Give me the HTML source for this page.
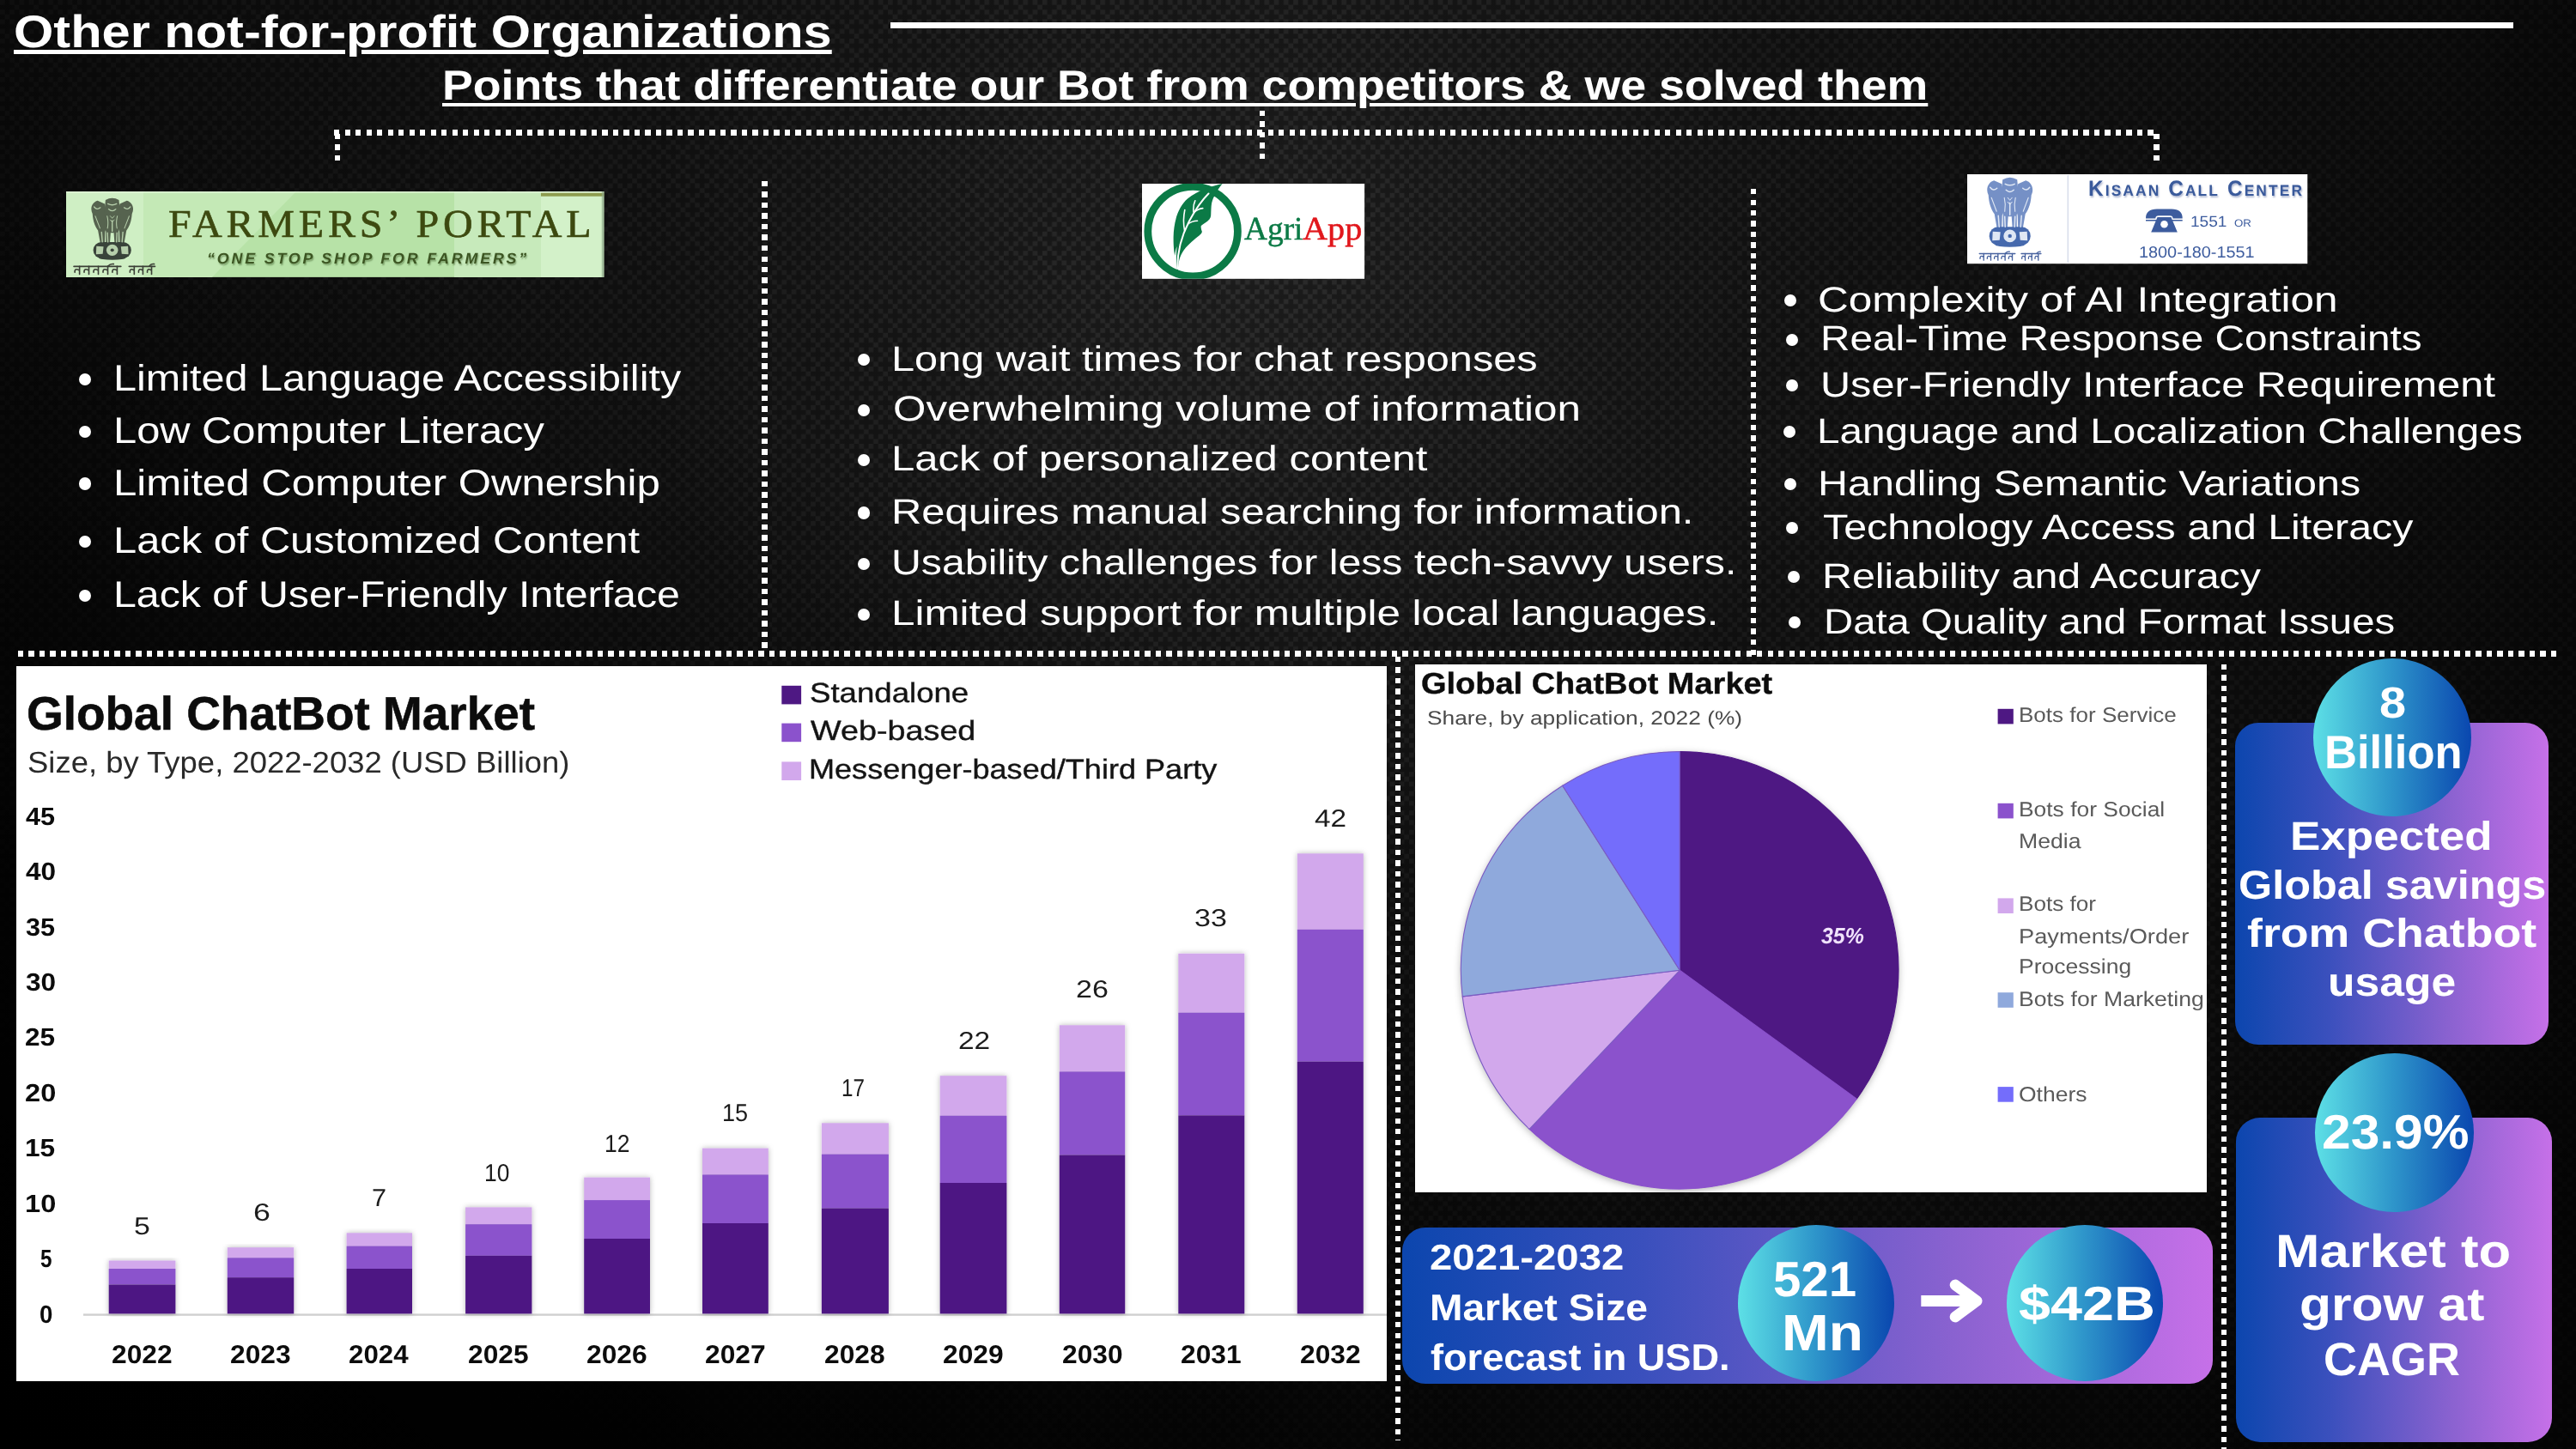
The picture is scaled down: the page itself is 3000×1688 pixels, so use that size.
<!DOCTYPE html>
<html lang="en">
<head>
<meta charset="utf-8">
<title>Other not-for-profit Organizations</title>
<style>
html,body{margin:0;padding:0;background:#0b0b0b;}
#slide{position:relative;width:3000px;height:1688px;overflow:hidden;
  font-family:"Liberation Sans",sans-serif;color:#fff;
  background:#161616;}
.t{position:absolute;white-space:nowrap;line-height:1;transform-origin:0 0;margin:0;text-rendering:geometricPrecision;}
.u{text-decoration:underline;text-decoration-thickness:4.5px;text-underline-offset:3px;}
.u2{text-decoration:underline;text-decoration-thickness:4.2px;text-underline-offset:3.5px;}
.dh{position:absolute;height:6.4px;background:repeating-linear-gradient(90deg,#fff 0 6.4px,transparent 6.4px 12.5px);}
.dv{position:absolute;width:6.4px;background:repeating-linear-gradient(180deg,#fff 0 6.4px,transparent 6.4px 12.5px);}
.b{position:absolute;width:14px;height:14px;border-radius:50%;background:#fff;}
.box{position:absolute;background:#fff;}
.card{position:absolute;background:linear-gradient(90deg,#0c46ae 0%,#3b50bd 30%,#8a62d0 68%,#c670e8 100%);}
.ball{position:absolute;border-radius:50%;background:linear-gradient(90deg,#5de0e6 0%,#2f97cb 48%,#0a47af 100%);}
svg{position:absolute;overflow:visible;}
ul{list-style:none;margin:0;padding:0;}
h1,h2{font-weight:700;}
#bgp{left:0;top:0;}
#shade{position:absolute;left:0;top:0;width:3000px;height:1688px;
  background:
   linear-gradient(to top right,rgba(0,0,0,1) 0%,rgba(0,0,0,.9) 12%,rgba(0,0,0,.45) 30%,rgba(0,0,0,0) 50%),
   radial-gradient(circle at 1450px 330px,rgba(0,0,0,0) 0,rgba(0,0,0,.12) 200px,rgba(0,0,0,.29) 450px,rgba(0,0,0,.44) 700px,rgba(0,0,0,.52) 1000px,rgba(0,0,0,.58) 1200px,rgba(0,0,0,.64) 1370px,rgba(0,0,0,.73) 1570px,rgba(0,0,0,.86) 1900px);}

</style>
</head>
<body>
<div id="slide">
<svg id="bgp" width="3000" height="1688"><defs><pattern id="wv" width="22.48" height="22.48" patternUnits="userSpaceOnUse"><rect width="22.48" height="22.48" fill="#1b1b1b"/><g fill="#2c2c2c"><rect x="0.00" y="0.00" width="5.62" height="5.62"/><rect x="11.24" y="0.00" width="5.62" height="5.62"/><rect x="16.86" y="5.62" width="5.62" height="5.62"/><rect x="0.00" y="11.24" width="5.62" height="5.62"/><rect x="11.24" y="11.24" width="5.62" height="5.62"/><rect x="5.62" y="16.86" width="5.62" height="5.62"/></g></pattern></defs><rect width="3000" height="1688" fill="url(#wv)"/></svg>
<div id="shade"></div>
<div style="position:absolute;left:1036.7px;top:26.4px;width:1890.2px;height:6.6px;background:#fff"></div>
<div class="dh" style="left:389.4px;top:151.3px;width:2119.0px"></div>
<div class="dv" style="left:389.6px;top:156.1px;height:31.9px"></div>
<div class="dv" style="left:1466.9px;top:128.6px;height:56.4px"></div>
<div class="dv" style="left:2508.3px;top:156.1px;height:31.9px"></div>
<div class="dv" style="left:887.2px;top:211px;height:544.3px"></div>
<div class="dv" style="left:2038.9px;top:220.2px;height:542.8px"></div>
<div class="dh" style="left:21px;top:758.2px;width:2956.4px"></div>
<div class="dv" style="left:1624.7px;top:765.2px;height:912.8px"></div>
<div class="dv" style="left:2586.9px;top:774.2px;height:913.8px"></div>
<div class="b" style="left:91.6px;top:434.8px;width:14.4px;height:14.4px"></div>
<div class="b" style="left:91.6px;top:496.0px;width:14.4px;height:14.4px"></div>
<div class="b" style="left:91.6px;top:556.4px;width:14.4px;height:14.4px"></div>
<div class="b" style="left:91.6px;top:623.9px;width:14.4px;height:14.4px"></div>
<div class="b" style="left:91.6px;top:686.8px;width:14.4px;height:14.4px"></div>
<div class="b" style="left:998.9px;top:412.0px;width:14.4px;height:14.4px"></div>
<div class="b" style="left:998.9px;top:470.5px;width:14.4px;height:14.4px"></div>
<div class="b" style="left:998.9px;top:528.7px;width:14.4px;height:14.4px"></div>
<div class="b" style="left:998.9px;top:590.3px;width:14.4px;height:14.4px"></div>
<div class="b" style="left:998.9px;top:649.5px;width:14.4px;height:14.4px"></div>
<div class="b" style="left:998.9px;top:708.7px;width:14.4px;height:14.4px"></div>
<div class="b" style="left:2077.6px;top:343.1px;width:14.4px;height:14.4px"></div>
<div class="b" style="left:2079.7px;top:388.5px;width:14.4px;height:14.4px"></div>
<div class="b" style="left:2079.7px;top:441.9px;width:14.4px;height:14.4px"></div>
<div class="b" style="left:2076.7px;top:495.9px;width:14.4px;height:14.4px"></div>
<div class="b" style="left:2077.6px;top:556.8px;width:14.4px;height:14.4px"></div>
<div class="b" style="left:2079.7px;top:608.1px;width:14.4px;height:14.4px"></div>
<div class="b" style="left:2082.1px;top:665.1px;width:14.4px;height:14.4px"></div>
<div class="b" style="left:2083.0px;top:717.9px;width:14.4px;height:14.4px"></div>
<svg style="left:76.7px;top:222.8px" width="626.3" height="99.9" viewBox="0 0 626.3 99.9">
<defs><clipPath id="fpc"><rect width="626.3" height="99.9"/></clipPath></defs>
<g clip-path="url(#fpc)">
<rect width="626.3" height="99.9" fill="#b7e2a7"/>
<path d="M0 0 H268 L170 99.9 H0 Z" fill="#c4e9b6"/>
<rect width="90" height="99.9" fill="#cfefc4"/>
<rect x="452" width="175" height="99.9" fill="#c7eabb"/>
<rect x="553" width="74" height="99.9" fill="#d3f1c9"/>
<rect x="553" y="1.5" width="74" height="4.2" fill="#8d9c4f"/>
<rect x="0" y="0" width="626.3" height="1.6" fill="#e4f6dc" opacity=".8"/>
<rect x="623.8" y="0" width="2.5" height="99.9" fill="#8fa88a" opacity=".7"/>
</g>
<g transform="translate(29.3,7.3) scale(0.92,0.89)"><g stroke="none">
<path d="M8 4 C1 6 -2 14 1.5 21 C2 29 4 37 8.5 43 L11.5 60 L17 60 L17.5 45 L21 30 L17 8 Z" fill="#56634f"/>
<path d="M45 4 C52 6 55 14 51.5 21 C51 29 49 37 44.5 43 L41.5 60 L36 60 L35.5 45 L32 30 L36 8 Z" fill="#56634f"/>
<path d="M18 3 Q26.5 -2 35 3 L36.5 20 Q38.5 34 34.5 44 L34.5 60 L29.5 60 L28.5 46 L24.5 46 L23.5 60 L18.5 60 L18.5 44 Q14.5 34 16.5 20 Z" fill="#56634f"/>
<rect x="2.5" y="58" width="48" height="21.5" rx="10.5" fill="#39433a"/>
<ellipse cx="26.5" cy="79" rx="17" ry="2.4" fill="#39433a"/>
<circle cx="26.5" cy="68.6" r="7.4" fill="#b6cfab"/>
<circle cx="26.5" cy="68.6" r="2.2" fill="#39433a"/>
<path d="M6.5 63.5 l9 .5 l-1 9.5 l-8.5 .5 z M37.5 64 l9 -.5 l.5 10.5 l-8.5 -.5 z" fill="#b6cfab"/>
</g>
<g fill="none" stroke="#b6cfab" stroke-width="1.5" stroke-linecap="round">
<path d="M21 8 Q26.5 11 32 8 M22 15 Q26.5 19.5 31 15 M3.5 12 Q7 17 11.5 13 M41.5 13 Q46 17 49.5 12"/>
<path d="M13 45 L14 58 M20.5 46 L21 58 M26.5 30 L26.5 44 M32.5 46 L32 58 M40 45 L39 58"/>
<path d="M5 24 Q8 32 11 40 M48 24 Q45 32 42 40 M20 24 Q22 32 20.5 40 M33 24 Q31 32 32.5 40" stroke-width="1.1"/>
<path d="M24 24 l2.5 3 l2.5 -3 M24 29 l2.5 3 l2.5 -3" stroke-width="1"/>
</g></g>
<g transform="translate(9,84.6)"><g stroke="#3b3f36" fill="none" stroke-width="1.62" stroke-linecap="round"><path d="M0.0 2.8 H54.8"/><path d="M6.6 2.8 V11.9 M6.6 7.5 q-6.0 -3.5 -5.5 2.2"/><path d="M17.5 2.8 V11.9 M17.5 7.5 q-6.0 -3.5 -5.5 2.2"/><path d="M28.5 2.8 V11.9 M28.5 7.5 q-6.0 -3.5 -5.5 2.2"/><path d="M39.5 2.8 V11.9 M39.5 7.5 q-6.0 -3.5 -5.5 2.2"/><path d="M50.4 2.8 V11.9 M50.4 7.5 q-6.0 -3.5 -5.5 2.2"/><path d="M64.3 2.8 H94.5"/><path d="M70.3 2.8 V11.9 M70.3 7.5 q-5.5 -3.5 -5.0 2.2"/><path d="M80.4 2.8 V11.9 M80.4 7.5 q-5.5 -3.5 -5.0 2.2"/><path d="M90.5 2.8 V11.9 M90.5 7.5 q-5.5 -3.5 -5.0 2.2"/><path d="M39.7 2.5 q2.8 -3.1 6.6 -2.5 M87.9 2.5 q1.9 -3.1 5.7 -2.5"/></g></g>
</svg>
<svg style="left:1329.8px;top:214px" width="259.1" height="110.8" viewBox="0 0 259.1 110.8">
<defs><clipPath id="agc"><rect width="259.1" height="110.8"/></clipPath></defs>
<rect width="259.1" height="110.8" fill="#fff"/>
<g clip-path="url(#agc)">
<circle cx="59.1" cy="55.6" r="52.3" fill="none" stroke="#0b7a46" stroke-width="8.8"/>
<path d="M93.7 0 C82 2.5 65 7.5 53 17.5 C42 27 37 44 36.6 62 C36.5 72 37.2 79 38.3 84 C38.6 79.5 39.4 76 40.6 73 C39.6 82 39.8 92 40.6 101.5 L42 101.5 C41.8 93 43.5 84.5 49 77 C54 70.5 61.5 64.5 66.5 60.5 C68.5 58.8 70.2 57.2 69.8 55.6 C69.2 53.5 68.3 51.3 68.8 49 C71.5 46.5 76 44.5 78.2 41.8 C80.6 38.8 80.2 36.5 80.3 34 C80.6 28 80.5 23.5 82 19.5 C84 14 88.5 6 93.7 0 Z" fill="#0b7a46"/>
<path d="M41.2 99 C41 81 45.5 62 54.5 44.5 C60.5 33 68.5 20.5 77.5 11.5" fill="none" stroke="#fff" stroke-width="2" stroke-linecap="round"/>
<path d="M49.6 55 C48 47 48.3 38 49.8 30.5 M60 33 C59.5 27.5 60.3 23 61.8 19.8 M53 47.5 C56.5 44.5 60.5 43.3 64.5 43.2 M60.8 33.5 C63.5 30.5 67 29 70.8 28.6" fill="none" stroke="#fff" stroke-width="1.6" stroke-linecap="round"/>
</g>
</svg>
<svg style="left:2290.8px;top:202.8px" width="396.3" height="104.2" viewBox="0 0 396.3 104.2">
<rect width="396.3" height="104.2" fill="#fff"/>
<rect x="116.6" y="1" width="1.4" height="102" fill="#d5dbea"/>
<g transform="translate(23.2,3.3) scale(1.0,1.0)"><g stroke="none">
<path d="M8 4 C1 6 -2 14 1.5 21 C2 29 4 37 8.5 43 L11.5 60 L17 60 L17.5 45 L21 30 L17 8 Z" fill="#7590c6"/>
<path d="M45 4 C52 6 55 14 51.5 21 C51 29 49 37 44.5 43 L41.5 60 L36 60 L35.5 45 L32 30 L36 8 Z" fill="#7590c6"/>
<path d="M18 3 Q26.5 -2 35 3 L36.5 20 Q38.5 34 34.5 44 L34.5 60 L29.5 60 L28.5 46 L24.5 46 L23.5 60 L18.5 60 L18.5 44 Q14.5 34 16.5 20 Z" fill="#7590c6"/>
<rect x="2.5" y="58" width="48" height="21.5" rx="10.5" fill="#4669ad"/>
<ellipse cx="26.5" cy="79" rx="17" ry="2.4" fill="#4669ad"/>
<circle cx="26.5" cy="68.6" r="7.4" fill="#dfe7f4"/>
<circle cx="26.5" cy="68.6" r="2.2" fill="#4669ad"/>
<path d="M6.5 63.5 l9 .5 l-1 9.5 l-8.5 .5 z M37.5 64 l9 -.5 l.5 10.5 l-8.5 -.5 z" fill="#dfe7f4"/>
</g>
<g fill="none" stroke="#dfe7f4" stroke-width="1.5" stroke-linecap="round">
<path d="M21 8 Q26.5 11 32 8 M22 15 Q26.5 19.5 31 15 M3.5 12 Q7 17 11.5 13 M41.5 13 Q46 17 49.5 12"/>
<path d="M13 45 L14 58 M20.5 46 L21 58 M26.5 30 L26.5 44 M32.5 46 L32 58 M40 45 L39 58"/>
<path d="M5 24 Q8 32 11 40 M48 24 Q45 32 42 40 M20 24 Q22 32 20.5 40 M33 24 Q31 32 32.5 40" stroke-width="1.1"/>
<path d="M24 24 l2.5 3 l2.5 -3 M24 29 l2.5 3 l2.5 -3" stroke-width="1"/>
</g></g>
<g transform="translate(14.2,90.2)"><g stroke="#47629f" fill="none" stroke-width="1.36" stroke-linecap="round"><path d="M0.0 2.3 H41.6"/><path d="M5.0 2.3 V10.0 M5.0 6.3 q-4.6 -2.9 -4.2 1.9"/><path d="M13.3 2.3 V10.0 M13.3 6.3 q-4.6 -2.9 -4.2 1.9"/><path d="M21.6 2.3 V10.0 M21.6 6.3 q-4.6 -2.9 -4.2 1.9"/><path d="M29.9 2.3 V10.0 M29.9 6.3 q-4.6 -2.9 -4.2 1.9"/><path d="M38.3 2.3 V10.0 M38.3 6.3 q-4.6 -2.9 -4.2 1.9"/><path d="M48.8 2.3 H71.7"/><path d="M53.3 2.3 V10.0 M53.3 6.3 q-4.2 -2.9 -3.8 1.9"/><path d="M61.0 2.3 V10.0 M61.0 6.3 q-4.2 -2.9 -3.8 1.9"/><path d="M68.6 2.3 V10.0 M68.6 6.3 q-4.2 -2.9 -3.8 1.9"/><path d="M30.1 2.1 q2.2 -2.6 5.0 -2.1 M66.7 2.1 q1.4 -2.6 4.3 -2.1"/></g></g>
<g fill="#3d5c9e">
<path d="M208 51.5 C208 44 212.5 40.5 221 40.5 H238 C246.5 40.5 250.7 44 250.7 51.5 H239.5 C239.5 49.2 238.5 48.3 236 48.3 H223 C220.5 48.3 219.3 49.2 219.3 51.5 Z"/>
<path d="M208 53 H250.7 V54.6 H208 Z"/>
<path d="M221.5 50 H237.5 L244.8 67.5 H214.2 Z"/>
</g>
<circle cx="229.5" cy="58.3" r="4.3" fill="#fff"/>
</svg>
<div class="box" style="left:19.1px;top:775.7px;width:1595.9px;height:833.5px"></div>
<svg style="left:0;top:0" width="3000" height="1688" viewBox="0 0 3000 1688"><defs><filter id="bsh" x="-20%" y="-5%" width="140%" height="110%"><feDropShadow dx="0" dy="0" stdDeviation="3" flood-color="#000" flood-opacity=".28"/></filter></defs><rect x="97" y="1530.4" width="1518" height="2.4" fill="#d0d0d0"/><g filter="url(#bsh)"><rect x="126.7" y="1468.5" width="77.7" height="9.5" fill="#d2a8ec"/><rect x="126.7" y="1478.0" width="77.7" height="18.5" fill="#8b52cc"/><rect x="126.7" y="1496.5" width="77.7" height="33.9" fill="#4e1883"/></g><g filter="url(#bsh)"><rect x="264.8" y="1453.2" width="77.4" height="12.1" fill="#d2a8ec"/><rect x="264.8" y="1465.3" width="77.4" height="22.9" fill="#8b52cc"/><rect x="264.8" y="1488.2" width="77.4" height="42.2" fill="#4e1883"/></g><g filter="url(#bsh)"><rect x="403.6" y="1436.3" width="76.4" height="15.3" fill="#d2a8ec"/><rect x="403.6" y="1451.6" width="76.4" height="26.4" fill="#8b52cc"/><rect x="403.6" y="1478.0" width="76.4" height="52.4" fill="#4e1883"/></g><g filter="url(#bsh)"><rect x="542.1" y="1406.4" width="77.3" height="19.8" fill="#d2a8ec"/><rect x="542.1" y="1426.2" width="77.3" height="36.6" fill="#8b52cc"/><rect x="542.1" y="1462.8" width="77.3" height="67.6" fill="#4e1883"/></g><g filter="url(#bsh)"><rect x="680.2" y="1371.6" width="76.8" height="26.5" fill="#d2a8ec"/><rect x="680.2" y="1398.1" width="76.8" height="44.9" fill="#8b52cc"/><rect x="680.2" y="1443.0" width="76.8" height="87.4" fill="#4e1883"/></g><g filter="url(#bsh)"><rect x="818.0" y="1337.6" width="76.8" height="30.8" fill="#d2a8ec"/><rect x="818.0" y="1368.4" width="76.8" height="56.6" fill="#8b52cc"/><rect x="818.0" y="1425.0" width="76.8" height="105.4" fill="#4e1883"/></g><g filter="url(#bsh)"><rect x="956.9" y="1308.3" width="78.0" height="36.3" fill="#d2a8ec"/><rect x="956.9" y="1344.6" width="78.0" height="63.0" fill="#8b52cc"/><rect x="956.9" y="1407.6" width="78.0" height="122.8" fill="#4e1883"/></g><g filter="url(#bsh)"><rect x="1094.7" y="1253.2" width="77.7" height="46.5" fill="#d2a8ec"/><rect x="1094.7" y="1299.7" width="77.7" height="78.3" fill="#8b52cc"/><rect x="1094.7" y="1378.0" width="77.7" height="152.4" fill="#4e1883"/></g><g filter="url(#bsh)"><rect x="1233.8" y="1194.3" width="76.4" height="54.1" fill="#d2a8ec"/><rect x="1233.8" y="1248.4" width="76.4" height="97.1" fill="#8b52cc"/><rect x="1233.8" y="1345.5" width="76.4" height="184.9" fill="#4e1883"/></g><g filter="url(#bsh)"><rect x="1372.3" y="1110.8" width="77.0" height="68.9" fill="#d2a8ec"/><rect x="1372.3" y="1179.7" width="77.0" height="119.7" fill="#8b52cc"/><rect x="1372.3" y="1299.4" width="77.0" height="231.0" fill="#4e1883"/></g><g filter="url(#bsh)"><rect x="1510.8" y="994.3" width="77.0" height="88.5" fill="#d2a8ec"/><rect x="1510.8" y="1082.8" width="77.0" height="153.9" fill="#8b52cc"/><rect x="1510.8" y="1236.7" width="77.0" height="293.7" fill="#4e1883"/></g><rect x="910.3" y="798.8" width="22.8" height="21.6" fill="#4e1883"/><rect x="910.3" y="842.6" width="22.8" height="21.6" fill="#8b52cc"/><rect x="910.3" y="887.4" width="22.8" height="21.6" fill="#d2a8ec"/></svg>
<div class="box" style="left:1647.8px;top:773.7px;width:922.2px;height:615.3px"></div>
<svg style="left:0;top:0" width="3000" height="1688" viewBox="0 0 3000 1688"><defs><filter id="psh" x="-10%" y="-10%" width="120%" height="120%"><feDropShadow dx="0" dy="2" stdDeviation="4" flood-color="#000" flood-opacity=".3"/></filter></defs><circle cx="1956.2" cy="1130.3" r="254.8" fill="#8b52cc" filter="url(#psh)"/><path d="M1956.2 1130.3 L1956.2 875.5 A254.8 254.8 0 0 1 2162.3 1280.1 Z" fill="#4e1883" stroke="#4e1883" stroke-width="1.1" stroke-linejoin="round"/><path d="M1956.2 1130.3 L2162.3 1280.1 A254.8 254.8 0 0 1 1781.1 1315.4 Z" fill="#8b52cc" stroke="#8b52cc" stroke-width="1.1" stroke-linejoin="round"/><path d="M1956.2 1130.3 L1781.1 1315.4 A254.8 254.8 0 0 1 1703.2 1160.9 Z" fill="#d2a8ec" stroke="#7b5cc2" stroke-width="1.1" stroke-linejoin="round"/><path d="M1956.2 1130.3 L1703.2 1160.9 A254.8 254.8 0 0 1 1819.7 915.2 Z" fill="#8fa9dc" stroke="#7b5cc2" stroke-width="1.1" stroke-linejoin="round"/><path d="M1956.2 1130.3 L1819.7 915.2 A254.8 254.8 0 0 1 1956.2 875.5 Z" fill="#746dfb" stroke="#7b5cc2" stroke-width="1.1" stroke-linejoin="round"/><rect x="2326.6" y="825.8" width="18.2" height="17.6" fill="#4e1883"/><rect x="2326.6" y="935.8" width="18.2" height="17.6" fill="#8b52cc"/><rect x="2326.6" y="1046.4" width="18.2" height="17.6" fill="#d2a8ec"/><rect x="2326.6" y="1156.2" width="18.2" height="17.6" fill="#8fa9dc"/><rect x="2326.6" y="1266.1" width="18.2" height="17.6" fill="#746dfb"/></svg>
<div class="card" style="left:1633.2px;top:1429.5px;width:944.2px;height:182.5px;border-radius:27px"></div>
<div class="ball" style="left:2023.7px;top:1426.5px;width:182.4px;height:182.4px"></div>
<div class="ball" style="left:2336.9px;top:1426.5px;width:182.4px;height:182.4px"></div>
<svg style="left:2220px;top:1470px" width="110" height="90" viewBox="2220 1470 110 90">
<path d="M2237.3 1515.5 H2300" fill="none" stroke="#fff" stroke-width="12.8"/>
<path d="M2277 1496.9 L2302.2 1515.5 L2277 1534.1" fill="none" stroke="#fff" stroke-width="12.6" stroke-linecap="round" stroke-linejoin="round"/>
</svg>
<div class="card" style="left:2602.9px;top:842px;width:364.7px;height:374.6px;border-radius:27px"></div>
<div class="ball" style="left:2694.1px;top:767.4px;width:184px;height:184px"></div>
<div class="card" style="left:2603.7px;top:1302px;width:368.3px;height:377.8px;border-radius:28px"></div>
<div class="ball" style="left:2696.0px;top:1227.0px;width:185.0px;height:185.0px"></div>
<h1 class="t u" style="left:15.6px;top:11.00px;font-size:53.05px;font-weight:700;transform:scaleX(1.1226);">Other not-for-profit Organizations</h1>
<h2 class="t u2" style="left:514.7px;top:76.00px;font-size:48.55px;font-weight:700;transform:scaleX(1.1060);">Points that differentiate our Bot from competitors &amp; we solved them</h2>
<ul>
<li class="t" style="left:132.2px;top:420.00px;font-size:42.88px;transform:scaleX(1.1323);">Limited Language Accessibility</li>
<li class="t" style="left:132.2px;top:481.00px;font-size:42.88px;transform:scaleX(1.1384);">Low Computer Literacy</li>
<li class="t" style="left:132.2px;top:542.00px;font-size:42.88px;transform:scaleX(1.1468);">Limited Computer Ownership</li>
<li class="t" style="left:132.2px;top:609.00px;font-size:42.88px;transform:scaleX(1.1381);">Lack of Customized Content</li>
<li class="t" style="left:132.2px;top:672.00px;font-size:42.88px;transform:scaleX(1.1257);">Lack of User-Friendly Interface</li>
</ul>
<ul>
<li class="t" style="left:1037.6px;top:398.00px;font-size:41.13px;transform:scaleX(1.1845);">Long wait times for chat responses</li>
<li class="t" style="left:1040.0px;top:456.00px;font-size:41.13px;transform:scaleX(1.1999);">Overwhelming volume of information</li>
<li class="t" style="left:1037.6px;top:514.00px;font-size:41.13px;transform:scaleX(1.1924);">Lack of personalized content</li>
<li class="t" style="left:1037.6px;top:576.00px;font-size:41.13px;transform:scaleX(1.1883);">Requires manual searching for information.</li>
<li class="t" style="left:1037.7px;top:635.00px;font-size:41.13px;transform:scaleX(1.1735);">Usability challenges for less tech-savvy users.</li>
<li class="t" style="left:1037.6px;top:694.00px;font-size:41.13px;transform:scaleX(1.2008);">Limited support for multiple local languages.</li>
</ul>
<ul>
<li class="t" style="left:2116.6px;top:329.00px;font-size:41.13px;transform:scaleX(1.2043);">Complexity of AI Integration</li>
<li class="t" style="left:2119.9px;top:374.00px;font-size:41.13px;transform:scaleX(1.1598);">Real-Time Response Constraints</li>
<li class="t" style="left:2119.9px;top:428.00px;font-size:41.13px;transform:scaleX(1.1816);">User-Friendly Interface Requirement</li>
<li class="t" style="left:2116.4px;top:482.00px;font-size:41.13px;transform:scaleX(1.1593);">Language and Localization Challenges</li>
<li class="t" style="left:2116.9px;top:543.00px;font-size:41.13px;transform:scaleX(1.1785);">Handling Semantic Variations</li>
<li class="t" style="left:2122.8px;top:594.00px;font-size:41.13px;transform:scaleX(1.1744);">Technology Access and Literacy</li>
<li class="t" style="left:2122.0px;top:651.00px;font-size:41.13px;transform:scaleX(1.1766);">Reliability and Accuracy</li>
<li class="t" style="left:2123.5px;top:704.00px;font-size:41.13px;transform:scaleX(1.1501);">Data Quality and Format Issues</li>
</ul>
<div class="t" style="left:196.0px;top:238.00px;font-size:45.8px;font-family:'Liberation Serif', serif;color:#3d4910;transform:scaleX(1.0483);letter-spacing:4.6px;-webkit-text-stroke:.6px #3d4910;">FARMERS’ PORTAL</div>
<div class="t" style="left:241.0px;top:293.00px;font-size:17.73px;font-weight:700;font-style:italic;color:#3c5522;transform:scaleX(1.0076);letter-spacing:2.8px;text-shadow:1px 1.5px 1.5px rgba(60,90,40,.45);">“ONE STOP SHOP FOR FARMERS”</div>
<div class="t" style="left:1449.2px;top:248.00px;font-size:38.17px;font-family:'Liberation Serif', serif;color:#0c7a46;transform:scaleX(0.9791);-webkit-text-stroke:.5px #0c7a46;">Agri</div>
<div class="t" style="left:1517.1px;top:248.00px;font-size:38.17px;font-family:'Liberation Serif', serif;color:#e1171c;transform:scaleX(1.0566);-webkit-text-stroke:.5px #e1171c;">App</div>
<div class="t" style="left:2432.1px;top:208.00px;font-size:25.29px;font-weight:700;color:#3a5a9b;transform:scaleX(0.9641);font-variant:small-caps;letter-spacing:2.2px;text-shadow:1px 2px 2px rgba(60,80,140,.4);">Kisaan Call Center</div>
<div class="t" style="left:2550.7px;top:250.00px;font-size:17.88px;color:#3d5c9e;transform:scaleX(1.0695);">1551</div>
<div class="t" style="left:2602.2px;top:254.00px;font-size:12.35px;color:#3d5c9e;transform:scaleX(1.0752);">OR</div>
<div class="t" style="left:2490.9px;top:285.00px;font-size:18.6px;color:#3d5c9e;transform:scaleX(1.0673);">1800-180-1551</div>
<div class="t" style="left:31.4px;top:805.00px;font-size:54.65px;font-weight:700;color:#0c0c0c;transform:scaleX(1.0053);-webkit-text-stroke:.6px #0c0c0c;">Global ChatBot Market</div>
<div class="t" style="left:32.4px;top:872.00px;font-size:34.88px;color:#2a2a2a;transform:scaleX(1.0451);">Size, by Type, 2022-2032 (USD Billion)</div>
<div class="t" style="left:943.3px;top:791.00px;font-size:32.27px;color:#141414;transform:scaleX(1.1343);-webkit-text-stroke:.4px #141414;">Standalone</div>
<div class="t" style="left:944.4px;top:835.00px;font-size:32.27px;color:#141414;transform:scaleX(1.1700);-webkit-text-stroke:.4px #141414;">Web-based</div>
<div class="t" style="left:942.2px;top:880.00px;font-size:32.27px;color:#141414;transform:scaleX(1.1182);-webkit-text-stroke:.4px #141414;">Messenger-based/Third Party</div>
<div class="t" style="left:46.1px;top:1518.00px;font-size:29px;font-weight:700;color:#0c0c0c;transform:scaleX(0.9563);">0</div>
<div class="t" style="left:47.1px;top:1453.00px;font-size:29px;font-weight:700;color:#0c0c0c;transform:scaleX(0.8369);">5</div>
<div class="t" style="left:28.7px;top:1389.00px;font-size:29px;font-weight:700;color:#0c0c0c;transform:scaleX(1.1249);">10</div>
<div class="t" style="left:28.7px;top:1324.00px;font-size:29px;font-weight:700;color:#0c0c0c;transform:scaleX(1.0887);">15</div>
<div class="t" style="left:28.7px;top:1260.00px;font-size:29px;font-weight:700;color:#0c0c0c;transform:scaleX(1.1249);">20</div>
<div class="t" style="left:28.7px;top:1195.00px;font-size:29px;font-weight:700;color:#0c0c0c;transform:scaleX(1.0887);">25</div>
<div class="t" style="left:29.8px;top:1131.00px;font-size:29px;font-weight:700;color:#0c0c0c;transform:scaleX(1.0887);">30</div>
<div class="t" style="left:29.8px;top:1067.00px;font-size:29px;font-weight:700;color:#0c0c0c;transform:scaleX(1.0549);">35</div>
<div class="t" style="left:29.8px;top:1002.00px;font-size:29px;font-weight:700;color:#0c0c0c;transform:scaleX(1.0887);">40</div>
<div class="t" style="left:29.8px;top:938.00px;font-size:29px;font-weight:700;color:#0c0c0c;transform:scaleX(1.0549);">45</div>
<div class="t" style="left:130.1px;top:1564.00px;font-size:30px;font-weight:700;color:#0c0c0c;transform:scaleX(1.0574);">2022</div>
<div class="t" style="left:155.7px;top:1415.00px;font-size:28.6px;color:#1c1c1c;transform:scaleX(1.1854);">5</div>
<div class="t" style="left:268.0px;top:1564.00px;font-size:30px;font-weight:700;color:#0c0c0c;transform:scaleX(1.0574);">2023</div>
<div class="t" style="left:294.8px;top:1399.00px;font-size:28.6px;color:#1c1c1c;transform:scaleX(1.2497);">6</div>
<div class="t" style="left:406.4px;top:1564.00px;font-size:30px;font-weight:700;color:#0c0c0c;transform:scaleX(1.0414);">2024</div>
<div class="t" style="left:433.4px;top:1382.00px;font-size:28.6px;color:#1c1c1c;transform:scaleX(1.0711);">7</div>
<div class="t" style="left:545.3px;top:1564.00px;font-size:30px;font-weight:700;color:#0c0c0c;transform:scaleX(1.0574);">2025</div>
<div class="t" style="left:563.6px;top:1353.00px;font-size:28.6px;color:#1c1c1c;transform:scaleX(0.9236);">10</div>
<div class="t" style="left:683.1px;top:1564.00px;font-size:30px;font-weight:700;color:#0c0c0c;transform:scaleX(1.0574);">2026</div>
<div class="t" style="left:703.5px;top:1319.00px;font-size:28.6px;color:#1c1c1c;transform:scaleX(0.9270);">12</div>
<div class="t" style="left:820.9px;top:1564.00px;font-size:30px;font-weight:700;color:#0c0c0c;transform:scaleX(1.0574);">2027</div>
<div class="t" style="left:841.0px;top:1283.00px;font-size:28.6px;color:#1c1c1c;transform:scaleX(0.9478);">15</div>
<div class="t" style="left:960.4px;top:1564.00px;font-size:30px;font-weight:700;color:#0c0c0c;transform:scaleX(1.0574);">2028</div>
<div class="t" style="left:980.1px;top:1254.00px;font-size:28.6px;color:#1c1c1c;transform:scaleX(0.8475);">17</div>
<div class="t" style="left:1098.1px;top:1564.00px;font-size:30px;font-weight:700;color:#0c0c0c;transform:scaleX(1.0574);">2029</div>
<div class="t" style="left:1115.8px;top:1199.00px;font-size:28.6px;color:#1c1c1c;transform:scaleX(1.1702);">22</div>
<div class="t" style="left:1236.5px;top:1564.00px;font-size:30px;font-weight:700;color:#0c0c0c;transform:scaleX(1.0574);">2030</div>
<div class="t" style="left:1252.7px;top:1139.00px;font-size:28.6px;color:#1c1c1c;transform:scaleX(1.1902);">26</div>
<div class="t" style="left:1375.3px;top:1564.00px;font-size:30px;font-weight:700;color:#0c0c0c;transform:scaleX(1.0574);">2031</div>
<div class="t" style="left:1391.2px;top:1056.00px;font-size:28.6px;color:#1c1c1c;transform:scaleX(1.1936);">33</div>
<div class="t" style="left:1513.8px;top:1564.00px;font-size:30px;font-weight:700;color:#0c0c0c;transform:scaleX(1.0574);">2032</div>
<div class="t" style="left:1530.5px;top:940.00px;font-size:28.6px;color:#1c1c1c;transform:scaleX(1.1647);">42</div>
<div class="t" style="left:1655.4px;top:780.00px;font-size:34.88px;font-weight:700;color:#0c0c0c;transform:scaleX(1.0887);-webkit-text-stroke:.4px #0c0c0c;">Global ChatBot Market</div>
<div class="t" style="left:1661.7px;top:826.00px;font-size:22.53px;color:#4a4a4a;transform:scaleX(1.1684);">Share, by application, 2022 (%)</div>
<div class="t" style="left:2120.9px;top:1077.00px;font-size:26px;font-weight:700;font-style:italic;color:#f0e2fc;transform:scaleX(0.9571);">35%</div>
<div class="t" style="left:2351.4px;top:822.00px;font-size:24.27px;color:#5a5a5a;transform:scaleX(1.0725);">Bots for Service</div>
<div class="t" style="left:2351.4px;top:932.00px;font-size:24.27px;color:#5a5a5a;transform:scaleX(1.0879);">Bots for Social</div>
<div class="t" style="left:2351.4px;top:969.00px;font-size:24.27px;color:#5a5a5a;transform:scaleX(1.0976);">Media</div>
<div class="t" style="left:2351.4px;top:1042.00px;font-size:24.27px;color:#5a5a5a;transform:scaleX(1.0770);">Bots for</div>
<div class="t" style="left:2351.4px;top:1080.00px;font-size:24.27px;color:#5a5a5a;transform:scaleX(1.1225);">Payments/Order</div>
<div class="t" style="left:2351.4px;top:1115.00px;font-size:24.27px;color:#5a5a5a;transform:scaleX(1.0931);">Processing</div>
<div class="t" style="left:2351.4px;top:1153.00px;font-size:24.27px;color:#5a5a5a;transform:scaleX(1.0956);">Bots for Marketing</div>
<div class="t" style="left:2351.4px;top:1264.00px;font-size:24.27px;color:#5a5a5a;transform:scaleX(1.0921);">Others</div>
<div class="t" style="left:1664.5px;top:1444.00px;font-size:41.8px;font-weight:700;transform:scaleX(1.1323);">2021-2032</div>
<div class="t" style="left:1665.1px;top:1503.00px;font-size:43.17px;font-weight:700;transform:scaleX(1.0692);">Market Size</div>
<div class="t" style="left:1665.6px;top:1561.00px;font-size:43.17px;font-weight:700;transform:scaleX(1.0457);">forecast in USD.</div>
<div class="t" style="left:2065.3px;top:1463.00px;font-size:57.7px;font-weight:700;transform:scaleX(1.0088);">521</div>
<div class="t" style="left:2075.4px;top:1523.00px;font-size:59.59px;font-weight:700;transform:scaleX(1.1025);">Mn</div>
<div class="t" style="left:2351.1px;top:1491.00px;font-size:56.4px;font-weight:700;transform:scaleX(1.1789);">$42B</div>
<div class="t" style="left:2771.1px;top:793.00px;font-size:51px;font-weight:700;transform:scaleX(1.0957);">8</div>
<div class="t" style="left:2706.7px;top:850.00px;font-size:54.65px;font-weight:700;transform:scaleX(0.9623);">Billion</div>
<div class="t" style="left:2667.3px;top:951.00px;font-size:46.95px;font-weight:700;transform:scaleX(1.1294);">Expected</div>
<div class="t" style="left:2606.8px;top:1008.00px;font-size:46.95px;font-weight:700;transform:scaleX(1.0733);">Global savings</div>
<div class="t" style="left:2617.3px;top:1064.00px;font-size:46.95px;font-weight:700;transform:scaleX(1.1444);">from Chatbot</div>
<div class="t" style="left:2711.2px;top:1121.00px;font-size:46.95px;font-weight:700;transform:scaleX(1.0999);">usage</div>
<div class="t" style="left:2704.3px;top:1291.00px;font-size:56.4px;font-weight:700;transform:scaleX(1.0725);">23.9%</div>
<div class="t" style="left:2650.4px;top:1431.00px;font-size:54.22px;font-weight:700;transform:scaleX(1.1381);">Market to</div>
<div class="t" style="left:2678.4px;top:1493.00px;font-size:54.22px;font-weight:700;transform:scaleX(1.1177);">grow at</div>
<div class="t" style="left:2705.8px;top:1557.00px;font-size:54.22px;font-weight:700;transform:scaleX(0.9956);">CAGR</div>
</div>
</body>
</html>
